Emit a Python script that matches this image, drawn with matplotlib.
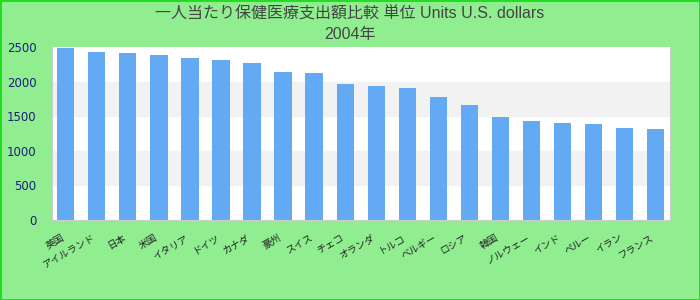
import matplotlib
matplotlib.use("Agg")
import matplotlib.pyplot as plt
import numpy as np

# 国名（ラベル）と値
paises = ["英国", "アイルランド", "日本", "米国", "イタリア", "ドイツ", "カナダ",
          "豪州", "スイス", "チェコ", "オランダ", "トルコ", "ベルギー", "ロシア",
          "韓国", "ノルウェー", "インド", "ペルー", "イラン", "フランス"]
valores = [2485, 2427, 2413, 2384, 2340, 2311, 2267, 2137, 2122, 1962,
           1933, 1904, 1773, 1657, 1483, 1424, 1395, 1381, 1323, 1308]
yticks = [0, 500, 1000, 1500, 2000, 2500]

titulo = "一人当たり保健医療支出額比較 単位 Units U.S. dollars\n2004年"

fig = plt.figure(figsize=(7, 3), dpi=100, facecolor="#90ee90",
                 edgecolor="#22dd22", linewidth=2)
ax = fig.add_axes([52 / 700, 80 / 300, 618 / 700, 173 / 300])
ax.set_facecolor("white")

x = np.arange(len(paises))

# faixas alternadas
ax.axhspan(500, 1000, color="#f2f2f2", zorder=0)
ax.axhspan(1500, 2000, color="#f2f2f2", zorder=0)

ax.bar(x, valores, width=0.55, color="#63a9f4", zorder=2)

ax.set_xlim(-0.45, len(paises) - 0.52)
ax.set_ylim(0, 2500)
ax.set_yticks(yticks)
ax.set_yticklabels([str(v) for v in yticks], fontsize=8.5, color="#1c1c80")
ax.set_xticks(x)
ax.set_xticklabels(paises, rotation=30, ha="right", fontsize=7,
                   family=["Noto Sans CJK JP", "DejaVu Sans"], color="#222222")
ax.tick_params(length=0)
ax.tick_params(axis="y", pad=11)
ax.tick_params(axis="x", pad=9)

for lado in ["left", "right", "bottom"]:
    ax.spines[lado].set_color("#cccccc")
ax.spines["top"].set_visible(False)

fig.text(0.5, 0.978, titulo, ha="center", va="top", fontsize=11.5,
         color="#444444", linespacing=1.45,
         family=["Liberation Sans", "Noto Sans CJK JP"])

plt.savefig("out.png", dpi=100, facecolor=fig.get_facecolor())
